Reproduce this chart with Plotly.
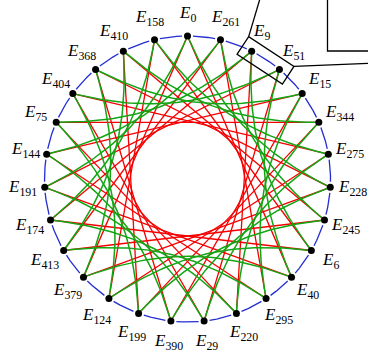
import numpy as np
import plotly.graph_objects as go

# ---- data ----
node_ids = [0, 261, 9, 51, 15, 344, 275, 228, 245, 6, 40, 295, 220, 29, 390,
            199, 124, 379, 413, 174, 191, 144, 75, 404, 368, 410, 158]
red_step = 10     # 5-isogeny cycle step
green_step = 7    # 7-isogeny cycle step
zoom_pair = [9, 51]

# ---- layout geometry (pixels) ----
W, H = 368, 351
CX, CY, R = 187.5, 179.0, 143.0
N = len(node_ids)
ang = np.deg2rad(90 - 360.0 * np.arange(N) / N)
px = CX + R * np.cos(ang)
py = CY - R * np.sin(ang)


def bezier(i, j, beta_deg, inward=True, n=60):
    p0 = np.array([px[i], py[i]]); p3 = np.array([px[j], py[j]])
    d = p3 - p0; L = np.hypot(*d); u = d / L
    nrm = np.array([-u[1], u[0]])
    mid = (p0 + p3) / 2
    c = np.array([CX, CY])
    s = 1 if np.dot(c - mid, nrm) > 0 else -1
    if not inward:
        s = -s
    b = np.deg2rad(beta_deg)
    v1 = u * np.cos(b) + s * nrm * np.sin(b)
    v2 = -u * np.cos(b) + s * nrm * np.sin(b)
    p1 = p0 + 0.3915 * L * v1
    p2 = p3 + 0.3915 * L * v2
    t = np.linspace(0, 1, n)[:, None]
    pts = (1 - t) ** 3 * p0 + 3 * (1 - t) ** 2 * t * p1 + 3 * (1 - t) * t ** 2 * p2 + t ** 3 * p3
    return pts[:, 0], pts[:, 1]


fig = go.Figure()

# blue 3-isogeny arcs
gap = np.deg2rad(2.2)
bx, by = [], []
for k in range(N):
    a0 = ang[k] - gap
    a1 = ang[k] - 2 * np.pi / N + gap
    tt = np.linspace(a0, a1, 20)
    bx += list(CX + R * np.cos(tt)) + [None]
    by += list(CY - R * np.sin(tt)) + [None]
fig.add_trace(go.Scatter(x=bx, y=by, mode="lines", line=dict(color="rgb(35,45,210)", width=1.3),
                         hoverinfo="skip"))

# green curves
gx, gy = [], []
for k in range(N):
    x, y = bezier(k, (k + green_step) % N, 20, inward=True)
    gx += list(x) + [None]; gy += list(y) + [None]

# red straight chords
rx, ry = [], []
for k in range(N):
    j = (k + red_step) % N
    rx += [px[k], px[j], None]; ry += [py[k], py[j], None]
fig.add_trace(go.Scatter(x=rx, y=ry, mode="lines", line=dict(color="rgb(245,0,0)", width=1.3),
                         hoverinfo="skip"))
fig.add_trace(go.Scatter(x=gx, y=gy, mode="lines", line=dict(color="rgb(20,165,20)", width=1.5),
                         hoverinfo="skip"))

# nodes
fig.add_trace(go.Scatter(x=px, y=py, mode="markers", marker=dict(color="black", size=7),
                         hoverinfo="skip"))

# labels
for k in range(N):
    lx = px[k] + 22 * np.cos(ang[k])
    ly = py[k] - 21.5 * np.sin(ang[k]) - 0.5
    fig.add_annotation(x=lx, y=ly, text=f"<i>E</i><sub>{node_ids[k]}</sub>", showarrow=False,
                       xanchor="center", yanchor="middle",
                       font=dict(family="Liberation Serif", size=17, color="black"))

# zoom callout around E9 - E51
i9, i51 = node_ids.index(zoom_pair[0]), node_ids.index(zoom_pair[1])
a = np.array([px[i9], py[i9]]); b = np.array([px[i51], py[i51]])
u = (b - a) / np.hypot(*(b - a)); nv = np.array([-u[1], u[0]])
pad = 10.5
corners = [a - pad * u + pad * nv, a - pad * u - pad * nv,
           b + pad * u - pad * nv, b + pad * u + pad * nv]
path = "M " + " L ".join(f"{c[0]},{c[1]}" for c in corners) + " Z"
fig.add_shape(type="path", path=path, line=dict(color="black", width=1.3), xref="x", yref="y")
top = min(corners, key=lambda c: c[1])
right = max(corners, key=lambda c: c[0])
fig.add_shape(type="line", x0=top[0], y0=top[1], x1=top[0] + 10.7 * 2, y1=top[1] - 36 * 2,
              line=dict(color="black", width=1.3), xref="x", yref="y")
fig.add_shape(type="line", x0=right[0], y0=right[1], x1=right[0] + 100, y1=right[1] - 4.1,
              line=dict(color="black", width=1.3), xref="x", yref="y")
fig.add_shape(type="path", path="M 327.5,-10 L 327.5,51 L 380,51",
              line=dict(color="black", width=1.3), xref="x", yref="y")

fig.update_layout(width=W, height=H, margin=dict(l=0, r=0, t=0, b=0),
                  paper_bgcolor="white", plot_bgcolor="white", showlegend=False,
                  xaxis=dict(range=[0, W], visible=False, fixedrange=True),
                  yaxis=dict(range=[H, 0], visible=False, fixedrange=True))
fig.write_html("out.html", config={"displayModeBar": False},
               post_script="document.body.style.margin='0';document.body.style.overflow='hidden';")
